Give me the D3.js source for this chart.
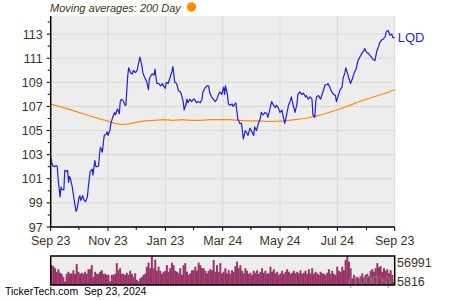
<!DOCTYPE html>
<html><head><meta charset="utf-8">
<script src="https://cdn.jsdelivr.net/npm/d3@7"></script>
<style>body{margin:0;background:#fff}svg{display:block}</style>
</head><body>
<svg id="c" width="450" height="300"></svg>
<script>
const symbol = "LQD";
const maLabel = "Moving averages: 200 Day";
const footer = "TickerTech.com  Sep 23, 2024";
const xTickDays = [0, 61, 122, 183, 244, 305, 366];
const xTickLabels = ["Sep 23", "Nov 23", "Jan 23", "Mar 24", "May 24", "Jul 24", "Sep 23"];
const xMinorDays = [30, 91, 152, 213, 274, 336];
const yTicks = [97, 99, 101, 103, 105, 107, 109, 111, 113];
const yMinor = [98, 100, 102, 104, 106, 108, 110, 112, 114];
const volLabels = ["56991", "5816"];
const volMax = 56.991;

// price: day offset from Sep 23 2023, closing price
const priceDay = [0,2,4,6,7,8,10,11,12,14,15,17,18,19,20,21,23,25,27,28,30,31,32,34,35,37,39,40,42,44,45,46,47,48,50,51,52,53,55,56,57,59,60,61,63,64,66,68,69,71,73,74,75,77,79,80,82,83,85,87,88,90,92,93,95,96,97,98,100,102,104,105,107,108,110,111,112,113,115,117,119,120,122,123,125,127,129,130,132,134,136,138,139,141,142,144,145,146,148,150,152,153,155,157,159,161,162,164,166,168,169,171,173,175,177,178,180,182,184,185,186,188,189,191,193,194,196,197,199,200,201,203,205,207,208,210,212,214,216,217,219,221,223,224,226,228,230,231,233,235,237,239,240,242,244,246,247,249,251,253,255,256,258,260,262,263,265,267,269,271,272,274,276,278,279,281,282,283,285,287,288,290,292,294,295,297,299,301,303,304,306,308,310,311,313,314,316,317,319,321,323,325,326,327,329,331,333,334,336,338,340,341,343,345,347,349,350,352,354,356,357,359,361,363,364,366];
const priceVal = [102.7,102.1,102.0,102.1,102.0,100.9,99.5,100.3,100.1,100.1,101.7,101.6,101.7,100.7,101.2,101.0,100.3,99.2,98.3,98.5,99.4,99.6,99.2,99.6,99.3,99.1,99.5,100.3,101.6,101.8,101.3,102.0,102.5,102.0,102.0,102.1,103.1,103.6,103.2,104.0,104.6,104.7,104.9,104.6,105.0,105.6,106.1,106.5,106.3,106.8,106.4,107.4,107.6,107.5,107.1,107.1,109.6,110.2,109.8,109.7,110.0,109.8,110.0,110.4,111.1,110.7,110.4,109.8,109.4,109.1,108.4,109.3,109.6,109.7,109.6,110.1,109.4,108.9,108.9,108.7,108.9,108.7,108.5,109.0,108.9,109.4,109.9,110.3,109.0,108.9,108.3,108.2,108.0,107.4,106.7,107.2,107.6,107.3,107.6,107.4,107.6,107.6,107.3,107.4,107.3,107.6,108.2,108.5,108.7,108.7,108.2,107.8,107.6,107.4,107.6,107.9,108.2,108.0,108.6,108.0,108.7,108.0,107.2,107.1,107.2,107.0,107.2,107.3,106.0,105.8,105.6,105.6,104.3,105.0,104.9,104.6,105.2,104.9,104.6,105.3,105.0,105.6,106.0,106.5,106.3,106.5,106.4,106.1,106.7,107.4,107.1,106.9,107.1,106.9,106.5,106.7,106.3,105.6,106.3,107.1,107.5,107.8,107.1,106.5,107.2,108.0,108.2,108.0,108.1,107.8,107.9,107.6,107.8,107.6,106.3,106.1,107.4,107.8,107.9,107.6,107.8,108.3,108.8,108.8,108.9,108.6,108.2,108.0,107.9,107.4,107.9,108.4,108.6,109.3,109.8,110.2,109.7,109.4,108.9,109.3,109.8,110.1,110.5,110.8,111.1,111.4,111.6,111.8,111.5,111.4,111.2,111.1,110.9,110.8,111.6,112.0,112.3,112.5,112.6,112.8,113.2,113.3,112.9,113.0,112.7,112.7];

// 200 day moving average
const maDay = [0,20,40,60,68,76,84,92,100,110,120,130,140,150,160,170,180,190,200,210,220,235,250,260,270,280,290,300,310,320,330,340,350,360,366];
const maVal = [107.2,106.75,106.25,105.8,105.6,105.5,105.55,105.7,105.8,105.85,105.9,105.85,105.9,105.85,105.85,105.9,105.9,105.9,105.85,105.8,105.8,105.75,105.8,105.9,106.0,106.15,106.35,106.6,106.85,107.15,107.45,107.7,107.95,108.2,108.4];

// volume (thousands)
const volume = [39,37,33,26,31,24,22,16,7,22,26,22,23,29,22,41,26,22,24,22,26,22,31,31,39,16,26,22,22,26,29,22,22,20,20,7,20,20,22,43,29,33,22,22,20,24,20,28,22,16,23,10,7,13,16,20,22,36,44,33,57,33,50,28,36,28,22,26,28,39,26,33,44,39,28,26,23,33,20,39,43,26,20,23,29,29,36,28,44,39,33,33,28,23,28,31,29,49,26,39,26,43,
23,26,33,23,29,22,29,26,37,46,33,39,28,23,33,28,22,24,20,28,24,29,22,26,33,24,28,22,23,36,26,31,23,26,20,23,28,22,26,31,26,22,24,28,23,26,23,29,22,24,28,22,31,23,33,22,26,23,20,26,23,22,20,24,31,22,28,22,20,36,28,26,36,29,49,57,46,33,13,20,13,16,13,18,23,15,20,22,18,28,31,26,33,43,35,37,26,33,28,31,23,29,20,6];

const svg = d3.select("#c");
const L = 50.7, R = 394.7, T = 16, B = 227;
const x = d3.scaleLinear().domain([0, 366]).range([L, R]);
const y = d3.scaleLinear().domain([97, 114.5]).range([B, T]);
const labCol = "#3d3419";
const font = "'Liberation Sans', Arial, sans-serif";

// plot background
svg.append("rect").attr("x", L).attr("y", T).attr("width", R - L).attr("height", B - T).attr("fill", "#ededed");

// grid
svg.append("g").selectAll("line").data(yTicks).join("line")
  .attr("x1", L).attr("x2", R).attr("y1", d => y(d)).attr("y2", d => y(d))
  .attr("stroke", "#d9d9d9").attr("stroke-width", 1);
svg.append("g").selectAll("line").data(xTickDays).join("line")
  .attr("x1", d => x(d)).attr("x2", d => x(d)).attr("y1", T).attr("y2", B)
  .attr("stroke", "#d9d9d9").attr("stroke-width", 1);

// MA line
const maData = maDay.map((d, i) => [d, maVal[i]]);
svg.append("path").datum(maData)
  .attr("d", d3.line().x(d => x(d[0])).y(d => y(d[1])))
  .attr("fill", "none").attr("stroke", "#ff8c00").attr("stroke-width", 1.2);

// price line
const pData = priceDay.map((d, i) => [d, priceVal[i]]);
svg.append("path").datum(pData)
  .attr("d", d3.line().x(d => x(d[0])).y(d => y(d[1])))
  .attr("fill", "none").attr("stroke", "#1f1fdd").attr("stroke-width", 1.2).attr("stroke-linejoin", "round");

// y axis
const yAxis = svg.append("g").attr("transform", `translate(${L},0)`);
yAxis.append("line").attr("x1", 0).attr("x2", 0).attr("y1", T).attr("y2", B).attr("stroke", "#000").attr("stroke-width", 1.5);
yAxis.selectAll(".mj").data(yTicks).join("line").attr("class", "mj")
  .attr("x1", -4).attr("x2", 0).attr("y1", d => y(d)).attr("y2", d => y(d)).attr("stroke", "#000");
yAxis.selectAll(".mn").data(yMinor.filter(v => y(v) >= T)).join("line").attr("class", "mn")
  .attr("x1", -3).attr("x2", 0).attr("y1", d => y(d)).attr("y2", d => y(d)).attr("stroke", "#000");
yAxis.selectAll("text").data(yTicks).join("text")
  .attr("x", -8).attr("y", d => y(d) + 4.5).attr("text-anchor", "end")
  .attr("font-family", font).attr("font-size", 12.5).attr("fill", labCol).text(d => d);

// x axis
const xAxis = svg.append("g");
xAxis.append("line").attr("x1", L).attr("x2", R).attr("y1", B).attr("y2", B).attr("stroke", "#000").attr("stroke-width", 1.5);
xAxis.selectAll(".mj").data(xTickDays).join("line").attr("class", "mj")
  .attr("x1", d => x(d)).attr("x2", d => x(d)).attr("y1", B).attr("y2", B + 4).attr("stroke", "#000");
xAxis.selectAll(".mn").data(xMinorDays).join("line").attr("class", "mn")
  .attr("x1", d => x(d)).attr("x2", d => x(d)).attr("y1", B).attr("y2", B + 3).attr("stroke", "#000");
xAxis.selectAll("text").data(xTickDays).join("text")
  .attr("x", d => x(d)).attr("y", 245).attr("text-anchor", "middle")
  .attr("font-family", font).attr("font-size", 12.5).attr("fill", labCol).text((d, i) => xTickLabels[i]);

// symbol label
svg.append("text").attr("x", x(366) + 3).attr("y", y(priceVal[priceVal.length - 1]) + 4.5)
  .attr("font-family", font).attr("font-size", 13).attr("fill", "#1f1fdd").text(symbol);

// legend
svg.append("text").attr("x", 50).attr("y", 12).attr("font-family", font).attr("font-style", "italic")
  .attr("font-size", 11).attr("fill", labCol).text(maLabel);
svg.append("circle").attr("cx", 191.5).attr("cy", 7).attr("r", 4.7).attr("fill", "#ff8c00");

// volume panel
const VT = 256, VB = 285;
const vx = d3.scaleBand().domain(d3.range(volume.length)).range([L, R]).padding(0);
const vy = d3.scaleLinear().domain([0, volMax * 1000 / 1000]).range([VB, VT]);
svg.append("rect").attr("x", L).attr("y", VT).attr("width", R - L).attr("height", VB - VT).attr("fill", "#ededed");
svg.append("g").selectAll("rect").data(volume).join("rect")
  .attr("x", (d, i) => vx(i)).attr("width", vx.bandwidth() + 0.3)
  .attr("y", d => vy(d)).attr("height", d => VB - vy(d)).attr("fill", "#993366");
svg.append("text").attr("x", 348).attr("y", 284.5).attr("font-family", font).attr("font-size", 12)
  .attr("fill", "#8a8a8a").attr("fill-opacity", 0.85).text("(1000's)");
svg.append("rect").attr("x", L).attr("y", VT).attr("width", R - L).attr("height", VB - VT)
  .attr("fill", "none").attr("stroke", "#000").attr("stroke-width", 1.5);
svg.append("text").attr("x", 397).attr("y", 267).attr("font-family", font).attr("font-size", 12.5).attr("fill", labCol).text(volLabels[0]);
svg.append("text").attr("x", 397).attr("y", 286).attr("font-family", font).attr("font-size", 12.5).attr("fill", labCol).text(volLabels[1]);

// footer
svg.append("text").attr("x", 5).attr("y", 295).attr("font-family", font).attr("font-size", 10.5).attr("fill", "#000").attr("xml:space", "preserve").style("white-space", "pre").text(footer);
</script>
</body></html>
